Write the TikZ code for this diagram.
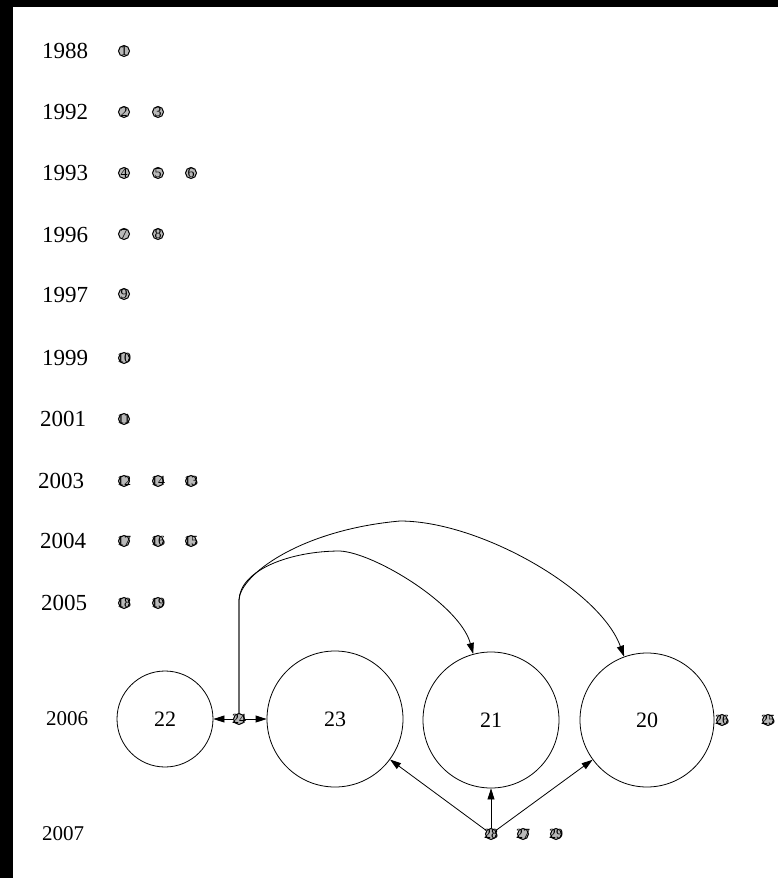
\documentclass[tikz,border=0pt]{standalone}
\usepackage{fontspec}
\setmainfont{Liberation Serif}
\usetikzlibrary{arrows.meta}
\begin{document}
\begin{tikzpicture}[x=1pt, y=-1pt,
                    yearlbl/.style = {font=\fontsize{23}{23}\selectfont},
                    bignode/.style = {shape = circle,
                                      draw,
                                      line width=0.8pt,
                                      inner sep=0pt,
                                      font=\fontsize{22}{22}\selectfont},
                    dotnode/.style = {shape = circle,
                                      draw,
                                      fill=gray!55,
                                      line width=1pt,
                                      inner sep=0pt,
                                      minimum size = 11pt,
                                      label={center:\fontsize{14}{14}\selectfont #1}},
                    citeedge/.style = {line width=0.8pt, -{Triangle[length=11pt,width=7pt]}}]
		\useasboundingbox (0,0) rectangle (778,878);
		\fill[white] (0,0) rectangle (778,878);
		% black frame
		\fill[black] (0,0) rectangle (13,878);
		\fill[black] (0,0) rectangle (778,7);
		% years
		\node[yearlbl] (y1988) at (65,51) {1988};
		\node[yearlbl] (y1992) at (65,112) {1992};
		\node[yearlbl] (y1993) at (65,173) {1993};
		\node[yearlbl] (y1996) at (65,235) {1996};
		\node[yearlbl] (y1997) at (65,295) {1997};
		\node[yearlbl] (y1999) at (65,358) {1999};
		\node[yearlbl] (y2001) at (63,419) {2001};
		\node[yearlbl] (y2003) at (61,481) {2003};
		\node[yearlbl] (y2004) at (63,541) {2004};
		\node[yearlbl] (y2005) at (64,603) {2005};
		\node[yearlbl, font=\fontsize{21}{21}\selectfont] (y2006) at (67,719) {2006};
		\node[yearlbl, font=\fontsize{21}{21}\selectfont] (y2007) at (63,834) {2007};
		% papers
		\node[dotnode=1] (1) at (124,51) {};
		\node[dotnode=2] (2) at (124,112) {};
		\node[dotnode=3] (3) at (158,112) {};
		\node[dotnode=4] (4) at (124,173) {};
		\node[dotnode=5] (5) at (158,173) {};
		\node[dotnode=6] (6) at (191,173) {};
		\node[dotnode=7] (7) at (124,234) {};
		\node[dotnode=8] (8) at (158,234) {};
		\node[dotnode=9] (9) at (124,294) {};
		\node[dotnode=10] (10) at (124,358) {};
		\node[dotnode=11] (11) at (124,419) {};
		\node[dotnode=12] (12) at (124,481) {};
		\node[dotnode=14] (14) at (158,481) {};
		\node[dotnode=13] (13) at (191,481) {};
		\node[dotnode=17] (17) at (124,541) {};
		\node[dotnode=16] (16) at (158,541) {};
		\node[dotnode=15] (15) at (191,541) {};
		\node[dotnode=18] (18) at (124,603) {};
		\node[dotnode=19] (19) at (158,603) {};
		\node[bignode, minimum size = 96pt] (22) at (165,719) {22};
		\node[dotnode=24] (24) at (239,719) {};
		\node[bignode, minimum size = 136pt] (23) at (335,719) {23};
		\node[bignode, minimum size = 136pt] (21) at (491,720) {21};
		\node[bignode, minimum size = 134pt] (20) at (647,720) {20};
		\node[dotnode=26] (26) at (722,720) {};
		\node[dotnode=25] (25) at (768,720) {};
		\node[dotnode=28] (28) at (491,834) {};
		\node[dotnode=27] (27) at (523,834) {};
		\node[dotnode=29] (29) at (556,834) {};
		% citations
		\draw[citeedge] (24) -- (22);
		\draw[citeedge] (24) -- (23);
		\draw[citeedge] (24) -- (239,600) .. controls (240,575) and (300,530) .. (400,521)
			.. controls (480,521) and (600,590) .. (20);
		\draw[citeedge] (24) -- (239,600) .. controls (240,570) and (290,551) .. (340,551)
			.. controls (375,553) and (460,605) .. (21);
		\draw[citeedge] (28) -- (23);
		\draw[citeedge] (28) -- (21);
		\draw[citeedge] (28) -- (20);
	\end{tikzpicture}
\end{document}
